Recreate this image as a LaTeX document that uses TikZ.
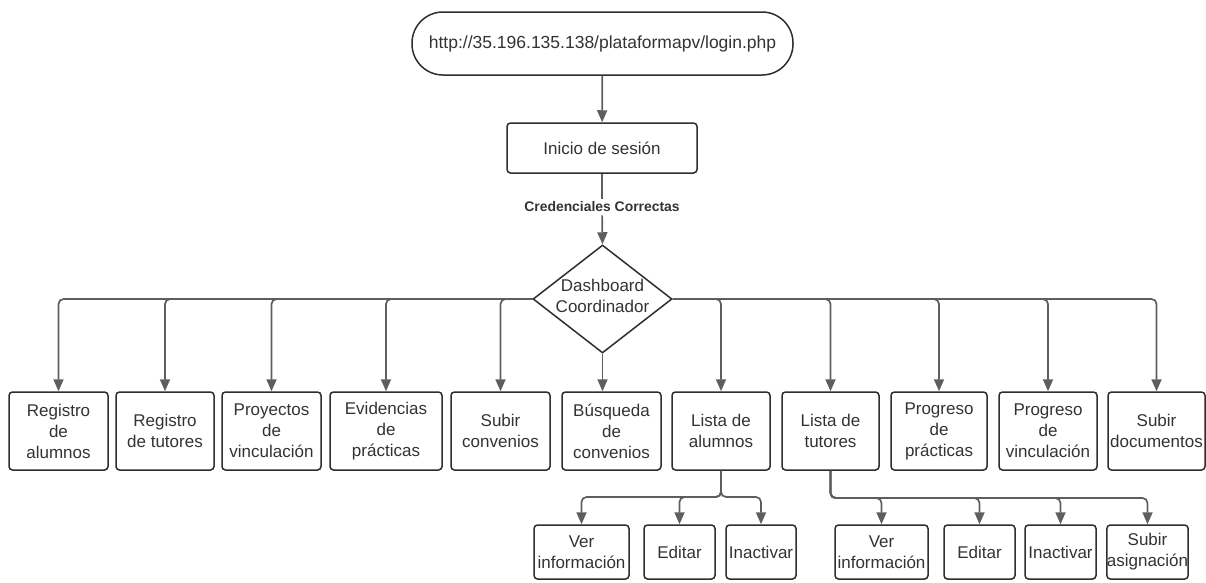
\documentclass[tikz,border=0pt]{standalone}
\usepackage{fontspec}
\setmainfont{Liberation Sans}
\usetikzlibrary{shapes.geometric,arrows.meta}
\definecolor{linec}{HTML}{5E5E5E}
\definecolor{boxc}{HTML}{2E2E2E}
\definecolor{txtc}{HTML}{333333}
\begin{document}
\begin{tikzpicture}[x=1pt,y=-1pt,
  box/.style={draw=boxc,line width=1.5pt,rounded corners=3.5pt,inner sep=0pt,align=center,text=txtc,font=\fontsize{17}{21}\selectfont},
  rowbox/.style={box,minimum height=78pt},
  subbox/.style={box,minimum height=54pt},
  conn/.style={draw=linec,line width=1.7pt,rounded corners=5pt},
  arr/.style={conn,-{Triangle[width=10pt,length=12pt]}}]
\useasboundingbox[fill=white] (0,0) rectangle (1206,582);
% top
\node[box,rounded corners=31pt,minimum width=381pt,minimum height=63pt,font=\fontsize{17.5}{21}\selectfont] (url) at (602.5,43.5) {http://35.196.135.138/plataformapv/login.php};
\node[box,minimum width=190pt,minimum height=50pt] (inicio) at (602,148) {Inicio de sesión};
\node[fill=white,inner sep=3pt,text=txtc,font=\bfseries\fontsize{13.9}{16}\selectfont] (cred) at (602,207) {Credenciales Correctas};
\node[box,shape=diamond,rounded corners=0pt,minimum width=139pt,minimum height=108pt,
  label={[align=center,text=txtc,font=\fontsize{17}{21}\selectfont,yshift=3pt]center:Dashboard\\Coordinador}] (dash) at (602.5,299) {};
% row
\node[rowbox,minimum width=99pt] (b1) at (58.5,431) {Registro\\de\\alumnos};
\node[rowbox,minimum width=98pt] (b2) at (165,431) {Registro\\de tutores};
\node[rowbox,minimum width=99pt] (b3) at (271.5,431) {Proyectos\\de\\vinculación};
\node[rowbox,minimum width=112pt] (b4) at (386,431) {Evidencias\\de\\prácticas};
\node[rowbox,minimum width=99pt] (b5) at (500.5,431) {Subir\\convenios};
\node[rowbox,minimum width=99pt] (b6) at (611.5,431) {Búsqueda\\de\\convenios};
\node[rowbox,minimum width=98pt] (b7) at (721,431) {Lista de\\alumnos};
\node[rowbox,minimum width=97pt] (b8) at (830.5,431) {Lista de\\tutores};
\node[rowbox,minimum width=96pt] (b9) at (939,431) {Progreso\\de\\prácticas};
\node[rowbox,minimum width=98pt] (b10) at (1048,431) {Progreso\\de\\vinculación};
\node[rowbox,minimum width=97pt] (b11) at (1156.5,431) {Subir\\documentos};
% sub rows
\node[subbox,minimum width=95pt] (v1) at (581.5,552) {Ver\\información};
\node[subbox,minimum width=71pt] (e1) at (679.5,552) {Editar};
\node[subbox,minimum width=70pt] (i1) at (761,552) {Inactivar};
\node[subbox,minimum width=93pt] (v2) at (881.5,552) {Ver\\información};
\node[subbox,minimum width=71pt] (e2) at (979.5,552) {Editar};
\node[subbox,minimum width=71pt] (i2) at (1060.5,552) {Inactivar};
\node[subbox,minimum width=81pt] (s2) at (1147.5,552) {Subir\\asignación};
% connectors
\draw[arr] (url) -- (inicio);
\draw[conn] (inicio) -- (cred);
\draw[arr] (cred) -- (dash.north);
\foreach \b in {b1,b2,b3,b4,b5} \draw[arr] (dash.west) -| (\b.north);
\foreach \b in {b7,b8,b9,b10,b11} \draw[arr] (dash.east) -| (\b.north);
\draw[arr] (dash.south) -- (dash.south |- b6.north);
\foreach \b in {v1,e1,i1} \draw[arr] (b7.south) -- (b7.south |- 0,497) -| (\b.north);
\foreach \b in {v2,e2,i2,s2} \draw[arr] (b8.south) -- (b8.south |- 0,498) -| (\b.north);
\end{tikzpicture}
\end{document}
